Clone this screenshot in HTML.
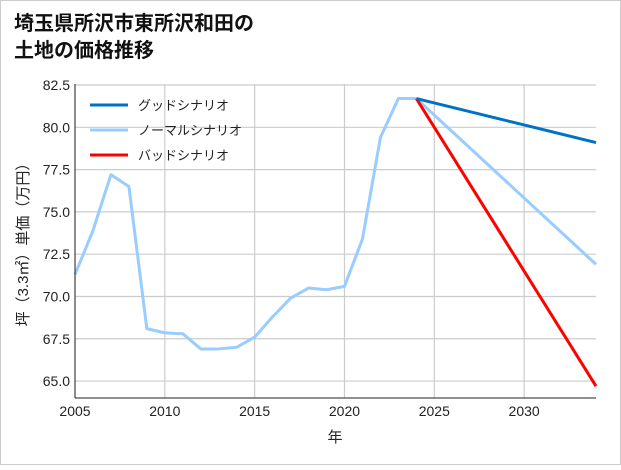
<!DOCTYPE html>
<html><head><meta charset="utf-8"><style>
body{margin:0;background:#fff;}
svg text{font-family:"Liberation Sans","Noto Sans CJK JP",sans-serif;}
</style></head><body>
<svg width="621" height="465" viewBox="0 0 621 465">
<rect x="0.5" y="0.5" width="620" height="464" fill="#fff" stroke="#ccc"/>
<text x="14" y="30" font-size="20" font-weight="bold" fill="#111">埼玉県所沢市東所沢和田の</text>
<text x="14" y="57" font-size="20" font-weight="bold" fill="#111">土地の価格推移</text>
<g id="grid"></g>
<g id="series"></g>
<g id="axes"></g>
<text x="335" y="442" font-size="15" text-anchor="middle" fill="#222">年</text>
<text transform="translate(28,241) rotate(-90)" font-size="15" text-anchor="middle" fill="#222">坪（3.3㎡）単価（万円）</text>
<g>
<line x1="90" y1="105" x2="128" y2="105" stroke="#0072c6" stroke-width="3"/>
<text x="138" y="110" font-size="13" fill="#222">グッドシナリオ</text>
<line x1="90" y1="130" x2="128" y2="130" stroke="#99ccff" stroke-width="3"/>
<text x="138" y="135" font-size="13" fill="#222">ノーマルシナリオ</text>
<line x1="90" y1="155" x2="128" y2="155" stroke="#ff0000" stroke-width="3"/>
<text x="138" y="160" font-size="13" fill="#222">バッドシナリオ</text>
</g>
</svg>
<script>
const years=[2005,2006,2007,2008,2009,2010,2011,2012,2013,2014,2015,2016,2017,2018,2019,2020,2021,2022,2023,2024];
const prices=[71.3,73.9,77.2,76.5,68.1,67.85,67.8,66.9,66.9,67.0,67.6,68.8,69.9,70.5,70.4,70.6,73.4,79.4,81.7,81.7];
const scenarioYears=[2024,2034];
const goodValues=[81.7,79.1];
const normalValues=[81.7,71.9];
const badValues=[81.7,64.7];
const xTicks=[2005,2010,2015,2020,2025,2030];
const yTicks=[65.0,67.5,70.0,72.5,75.0,77.5,80.0,82.5];
const L=75,R=596,T=84,B=398,x0=2005,x1=2034,yMin=64.0,yMax=82.56;
const NS="http://www.w3.org/2000/svg";
function X(v){return L+(v-x0)/(x1-x0)*(R-L);}
function Y(v){return B-(v-yMin)/(yMax-yMin)*(B-T);}
function mk(t,a,p){const e=document.createElementNS(NS,t);for(const k in a)e.setAttribute(k,a[k]);p.appendChild(e);return e;}
const grid=document.getElementById('grid'),ax=document.getElementById('axes'),sr=document.getElementById('series');
for(let y=2005;y<=2034;y+=5){
 const g=mk('line',{x1:X(y),x2:X(y),y1:T,y2:B,stroke:'#ccc','stroke-width':1.2},grid);
 
 
}
yTicks.forEach(v=>{
 const g=mk('line',{x1:L,x2:R,y1:Y(v),y2:Y(v),stroke:'#ccc','stroke-width':1.2},grid);
 
 
 const t=mk('text',{x:L-5,y:Y(v)+5,'font-size':14,'text-anchor':'end',fill:'#222'},ax);
 t.textContent=v.toFixed(1);
 
 
});
xTicks.forEach(v=>{
 const t=mk('text',{x:X(v),y:B+18,'font-size':14,'text-anchor':'middle',fill:'#222'},ax);
 t.textContent=v;
 
 
});
const ya=mk('line',{x1:L,x2:L,y1:T,y2:B,stroke:'#222','stroke-width':1},ax);


const xa=mk('line',{x1:L,x2:R,y1:B,y2:B,stroke:'#222','stroke-width':1},ax);


function line(xs,ys,c,n){
 const p=mk('polyline',{points:xs.map((x,i)=>X(x)+','+Y(ys[i])).join(' '),fill:'none',stroke:c,'stroke-width':3,'stroke-linejoin':'round'},sr);
 
 
}
line(years,prices,'#99ccff','history-line');
line(scenarioYears,normalValues,'#99ccff','normal-scenario-line');
line(scenarioYears,badValues,'#ff0000','bad-scenario-line');
line(scenarioYears,goodValues,'#0072c6','good-scenario-line');
</script>
</body></html>
